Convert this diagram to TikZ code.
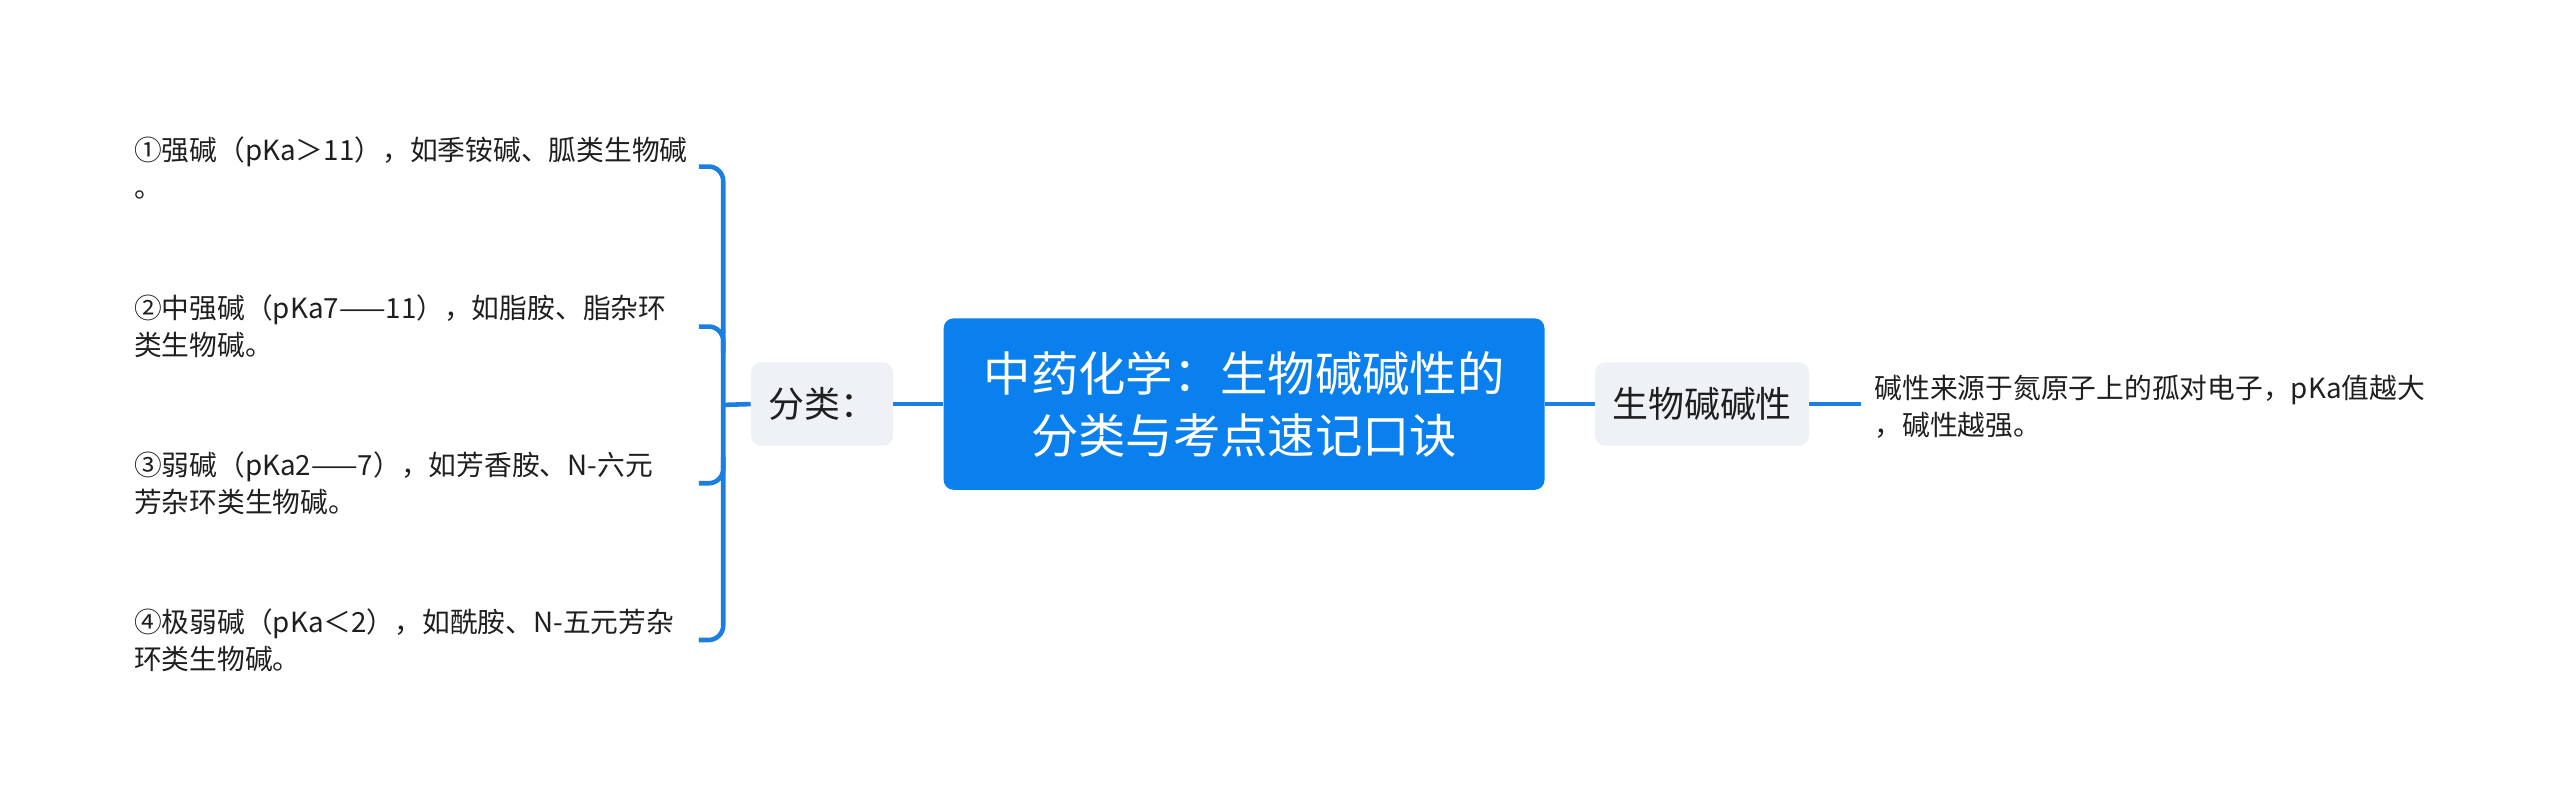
\documentclass[tikz,border=0pt]{standalone}
\usepackage{fontspec}
\setmainfont{Noto Sans CJK SC}
\definecolor{rootblue}{HTML}{0A80EE}
\definecolor{lineblue}{HTML}{1A7FE0}
\definecolor{subgray}{HTML}{EEF1F5}
\definecolor{txt}{HTML}{1F1F1F}
\begin{document}
\begin{tikzpicture}[x=1pt,y=-1pt,
  conn/.style={draw=lineblue, line width=2.8pt},
  rootbox/.style={fill=rootblue, rounded corners=6pt, minimum width=368pt, minimum height=105pt, text=white, align=center, font=\fontsize{29}{38}\selectfont, inner sep=0pt},
  subbox/.style={fill=subgray, rounded corners=6pt, minimum height=51pt, text=txt, font=\fontsize{22}{26}\selectfont, inner sep=0pt},
  leaf/.style={text=txt, align=left, font=\fontsize{17}{22.5}\selectfont, inner sep=0pt, anchor=west}]
\useasboundingbox (0,0) rectangle (1568,496);
\node[rootbox] (root) at (762,247.5) {中药化学：生物碱碱性的\\分类与考点速记口诀};
\node[subbox, minimum width=87pt] (fl) at (503.5,247.5) {分类：};
\node[subbox, minimum width=131pt] (sw) at (1042.5,247.5) {生物碱碱性};
\node[leaf, inner xsep=8pt] (rt) at (1140,249) {碱性来源于氮原子上的孤对电子，pKa值越大\\，碱性越强。};
\node[leaf] (l1) at (82,103) {①强碱（pKa＞11），如季铵碱、胍类生物碱\\。};
\node[leaf] (l2) at (82,200) {②中强碱（pKa7——11），如脂胺、脂杂环\\类生物碱。};
\node[leaf] (l3) at (82,296) {③弱碱（pKa2——7），如芳香胺、N-六元\\芳杂环类生物碱。};
\node[leaf] (l4) at (82,392) {④极弱碱（pKa＜2），如酰胺、N-五元芳杂\\环类生物碱。};
\coordinate (b1) at (428,102);
\coordinate (b2) at (428,200);
\coordinate (b3) at (428,296);
\coordinate (b4) at (428,392);
\coordinate (tr) at (443,248);
\draw[conn] (root.west) -- (fl.east);
\draw[conn] (root.east) -- (sw.west);
\draw[conn] (sw.east) -- (sw.east -| rt.west);
\draw[conn] (fl.west) -- (tr);
\draw[conn, rounded corners=9pt] (b1) -| (tr) |- (b4);
\draw[conn, rounded corners=9pt] (b2) -| ([yshift=-16pt]b2 -| tr);
\draw[conn, rounded corners=9pt] (b3) -| ([yshift=16pt]b3 -| tr);
\end{tikzpicture}
\end{document}
